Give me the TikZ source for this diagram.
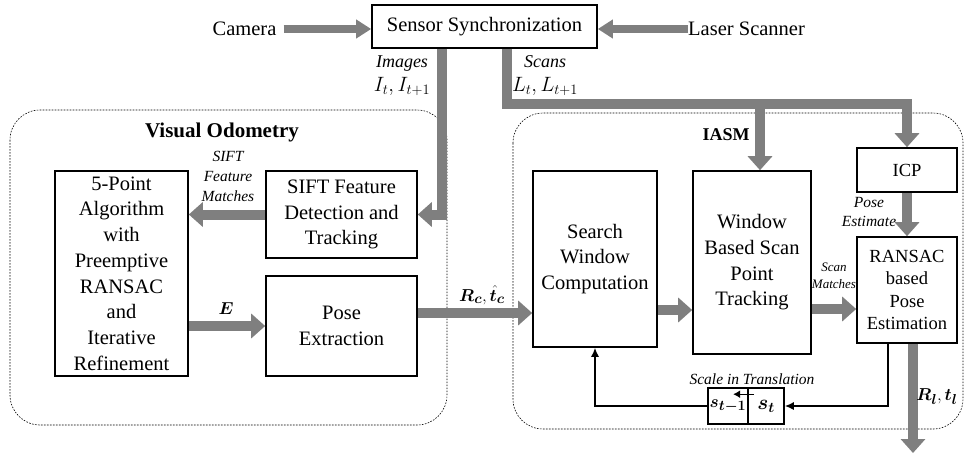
\documentclass[tikz,border=0pt]{standalone}
\usepackage{fontspec}
\setmainfont{Liberation Serif}
\usepackage{bm}
\usetikzlibrary{arrows.meta,calc}
\definecolor{garr}{HTML}{7F7F7F}
\begin{document}
\begin{tikzpicture}[x=1pt,y=-1pt,
  box/.style={draw,line width=1.6pt,align=center,inner sep=0pt,font=\fontsize{20.5}{25.7}\selectfont},
  txt/.style={inner sep=0pt,font=\fontsize{20.5}{25.7}\selectfont},
  grp/.style={draw,line width=0.6pt,dash pattern=on 1.6pt off 1.4pt,rounded corners=30pt},
  garrow/.style={draw=garr,line width=10pt,-{Triangle[length=14pt,width=24pt]}},
  gthin/.style={draw=garr,line width=7.5pt,-{Triangle[length=15pt,width=18pt]}},
  fb/.style={draw,line width=1.4pt,-{Latex[length=9pt,width=8pt]}},
  lbl/.style={inner sep=0pt,align=center,font=\fontsize{18}{24}\selectfont\itshape},
  small/.style={inner sep=0pt,align=center,font=\fontsize{15.5}{20}\selectfont\itshape}
]
\useasboundingbox (0,0) rectangle (964,453);

% groups
\draw[grp] (10,110) rectangle (447,425);
\draw[grp] (513,113) rectangle (963,429);
\node[inner sep=0pt,font=\fontsize{21}{25}\selectfont\bfseries] (votitle) at (222,132) {Visual Odometry};
\node[inner sep=0pt,font=\fontsize{18}{22}\selectfont\bfseries] (iasmtitle) at (726,135) {IASM};

% top
\node[box,minimum width=225pt,minimum height=43pt] (sensor) at (484.5,26.5) {Sensor Synchronization};
\node[txt] (camera) at (244.5,29) {Camera};
\node[txt,anchor=west] (laser) at (688,29) {Laser Scanner};

% visual odometry boxes
\node[box,minimum width=133pt,minimum height=205pt] (five) at (121.5,273.5)
  {5-Point\\Algorithm\\with\\Preemptive\\RANSAC\\and\\Iterative\\Refinement};
\node[box,minimum width=151pt,minimum height=87pt] (sift) at (341.5,214.5)
  {SIFT Feature\\Detection and\\Tracking};
\node[box,minimum width=151pt,minimum height=100pt] (pose) at (341.5,326)
  {Pose\\Extraction};

% IASM boxes
\node[box,minimum width=124pt,minimum height=176pt] (search) at (595,259)
  {Search\\Window\\Computation};
\node[box,minimum width=118pt,minimum height=183pt] (wb) at (752,262.5)
  {Window\\Based Scan\\Point\\Tracking};
\node[box,minimum width=100pt,minimum height=44pt,font=\fontsize{18.5}{22.6}\selectfont] (icp) at (907,170) {ICP};
\node[box,minimum width=100pt,minimum height=106pt,font=\fontsize{18.5}{22.6}\selectfont] (ransac) at (907,290)
  {RANSAC\\based\\Pose\\Estimation};
\node[box,minimum width=40pt,minimum height=36pt,font=\fontsize{19}{22}\selectfont] (sprev) at (728,406) {$\bm{s_{t-1}}$};
\node[box,minimum width=36pt,minimum height=36pt,font=\fontsize{20}{22}\selectfont] (scur) at (766,406) {$\bm{s_t}$};

% helper coordinates
\coordinate (imgx) at (442,0);
\coordinate (scx) at (507,104);
\coordinate (rcy) at (0,313);
\coordinate (swy) at (0,310);
\coordinate (smy) at (0,309);
\coordinate (fbx) at (888,0);
\coordinate (rlend) at (913,453);

% gray connectors
\draw[gthin] ($(camera.east)+(7,0)$) -- (camera.east -| sensor.west);
\draw[gthin] (laser.west) -- (laser.west -| sensor.east);
\draw[garrow] (sensor.south -| imgx) |- (sift.east);
\draw[garrow] (sensor.south -| scx) |- (scx -| icp.north) -- (icp.north);
\draw[garrow] ($(scx -| wb.north)+(8,0)$) -- ($(wb.north)+(8,0)$);
\draw[garrow] (sift.west) -- (sift.west -| five.east);
\draw[garrow] (pose.west -| five.east) -- (pose.west);
\draw[garrow] (pose.east |- rcy) -- (search.west |- rcy);
\draw[garrow] (search.east |- swy) -- (wb.west |- swy);
\draw[garrow] (wb.east |- smy) -- (ransac.west |- smy);
\draw[garrow] (icp.south) -- (ransac.north);
\draw[garrow] (ransac.south -| rlend) -- (rlend);

% feedback
\draw[fb] (ransac.south -| fbx) |- (scur.east);
\draw[fb] (sprev.west) -| (search.south);
\draw[line width=1.2pt,-{Latex[length=7pt,width=8pt]}] ($(scur.north west)+(7,7)$) -- ++(-21,0);

% labels
\node[lbl] (imglbl) at (402,76) {Images\\\fontsize{20.5}{24}\selectfont$I_t, I_{t+1}$};
\node[lbl] (scanlbl) at (545,76) {Scans\\\fontsize{20.5}{24}\selectfont$L_t, L_{t+1}$};
\node[small] (siftlbl) at (228,176) {SIFT\\Feature\\Matches};
\node[inner sep=0pt,font=\fontsize{19}{22}\selectfont] (elbl) at (226,309) {$\bm{E}$};
\node[inner sep=0pt,font=\fontsize{19}{22}\selectfont] (rclbl) at (482,295) {$\bm{R_c},\bm{\hat{t}_c}$};
\node[inner sep=0pt,align=center,font=\fontsize{13}{17}\selectfont\itshape] (smlbl) at (834,276) {Scan\\Matches};
\node[small] (pelbl) at (869,212) {Pose\\Estimate};
\node[small] (stlbl) at (752,379) {Scale in Translation};
\node[inner sep=0pt,font=\fontsize{19}{22}\selectfont] (rllbl) at (937,397) {$\bm{R_l},\bm{t_l}$};
\end{tikzpicture}
\end{document}
